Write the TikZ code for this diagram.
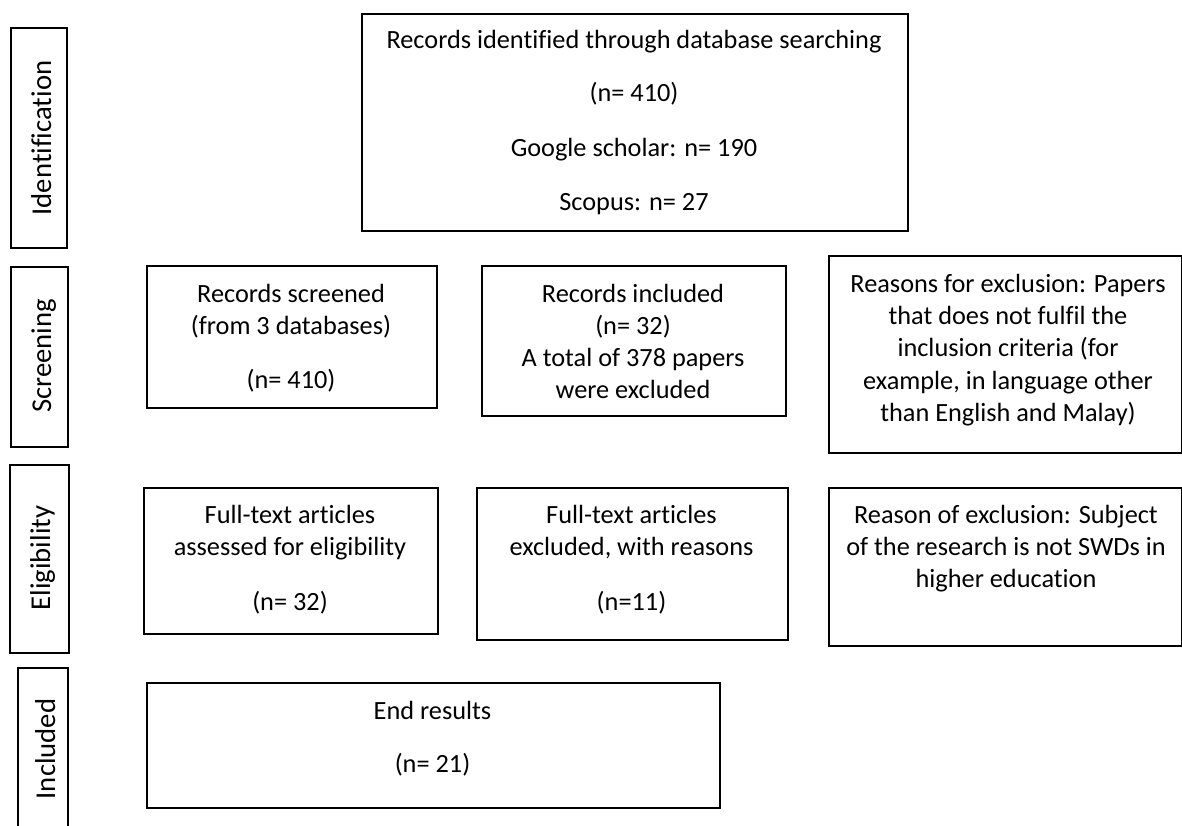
\documentclass[tikz,border=0pt]{standalone}
\usepackage{fontspec}
\setmainfont{Carlito}[Ligatures=NoCommon]
\begin{document}
\begin{tikzpicture}[x=1pt,y=-1pt,
  bx/.style={draw=black, line width=1.7pt, anchor=north west, inner sep=0pt, fill=none},
  tx/.style={anchor=base, inner sep=0pt, font=\fontsize{26.3}{32.3}\selectfont},
  side/.style={anchor=base, rotate=90, inner sep=0pt, font=\fontsize{28.7}{35}\selectfont}]
\useasboundingbox[fill=white] (0,0) rectangle (1182,825);
% side boxes
\node[bx, minimum width=56pt, minimum height=220pt] (id) at (10,27) {};
\node[bx, minimum width=57pt, minimum height=180pt] (scr) at (10,266) {};
\node[bx, minimum width=59pt, minimum height=188pt] (elig) at (9,464) {};
\node[bx, minimum width=50pt, minimum height=178pt] (incl) at (17,667) {};
\node[side] (idt) at (51,138) {Identification};
\node[side] (scrt) at (51,356) {Screening};
\node[side] (eligt) at (50,558) {Eligibility};
\node[side] (inclt) at (55,749) {Included};
% top box
\node[bx, minimum width=546pt, minimum height=217pt] (top) at (361,13) {};
\node[tx] (top1) at (634,48) {Records identified through database searching};
\node[tx] (top2) at (634,101) {(n= 410)};
\node[tx] (top3) at (634,156) {Google scholar: n= 190};
\node[tx] (top4) at (634,210) {Scopus: n= 27};
% screening row
\node[bx, minimum width=290pt, minimum height=142pt] (rs) at (146,265) {};
\node[tx] (rs1) at (291,302) {Records screened};
\node[tx] (rs2) at (291,334) {(from 3 databases)};
\node[tx] (rs3) at (291,388) {(n= 410)};
\node[bx, minimum width=304pt, minimum height=150pt] (ri) at (481,265) {};
\node[tx] (ri1) at (633,302) {Records included};
\node[tx] (ri2) at (633,334) {(n= 32)};
\node[tx] (ri3) at (633,366) {A total of 378 papers};
\node[tx] (ri4) at (633,398) {were excluded};
\node[bx, minimum width=353pt, minimum height=197pt] (rex) at (828,255) {};
\node[tx] (rex1) at (1008,292) {Reasons for exclusion: Papers};
\node[tx] (rex2) at (1008,324) {that does not fulfil the};
\node[tx] (rex3) at (1008,356) {inclusion criteria (for};
\node[tx] (rex4) at (1008,389) {example, in language other};
\node[tx] (rex5) at (1008,421) {than English and Malay)};
% eligibility row
\node[bx, minimum width=294pt, minimum height=146pt] (fa) at (143,487) {};
\node[tx] (fa1) at (290,523) {Full-text articles};
\node[tx] (fa2) at (290,555) {assessed for eligibility};
\node[tx] (fa3) at (290,610) {(n= 32)};
\node[bx, minimum width=311pt, minimum height=152pt] (fe) at (476,487) {};
\node[tx] (fe1) at (631.5,523) {Full-text articles};
\node[tx] (fe2) at (631.5,555) {excluded, with reasons};
\node[tx] (fe3) at (631.5,610) {(n=11)};
\node[bx, minimum width=353pt, minimum height=158pt] (rox) at (828,487) {};
\node[tx] (rox1) at (1006,523) {Reason of exclusion: Subject};
\node[tx] (rox2) at (1006,555) {of the research is not SWDs in};
\node[tx] (rox3) at (1006,587) {higher education};
% included row
\node[bx, minimum width=573pt, minimum height=125pt] (end) at (146,682) {};
\node[tx] (end1) at (432.5,719) {End results};
\node[tx] (end2) at (432.5,772) {(n= 21)};
\end{tikzpicture}
\end{document}
